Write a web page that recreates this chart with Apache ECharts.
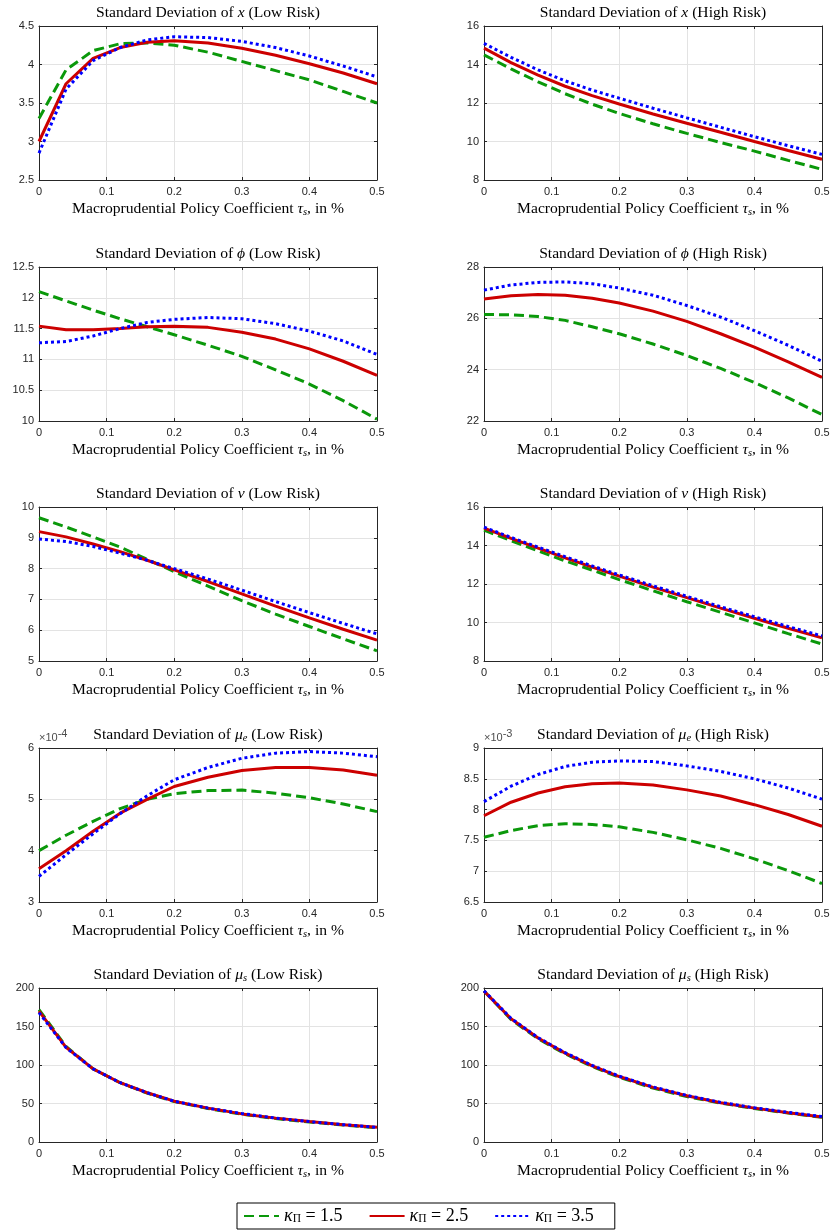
<!DOCTYPE html>
<html>
<head>
<meta charset="utf-8">
<title>Standard Deviations</title>
<script src="https://cdn.jsdelivr.net/npm/echarts@6/dist/echarts.min.js"></script>
<style>
html, body { margin: 0; padding: 0; background: #fff; }
#chart { width: 832px; height: 1230px; }
</style>
</head>
<body>
<div id="chart"></div>
<script>
// policy coefficient tau_s (x axis of every panel)
const tau = [0, 0.04, 0.08, 0.12, 0.16, 0.2, 0.25, 0.3, 0.35, 0.4, 0.45, 0.5]
// kappa_Pi values (one line per value)
const kappas = ['1.5', '2.5', '3.5']

// std of x
const xLow15 = [3.3, 3.93, 4.18, 4.27, 4.28, 4.25, 4.16, 4.04, 3.92, 3.8, 3.65, 3.5]
const xLow25 = [3.0, 3.75, 4.08, 4.22, 4.29, 4.31, 4.28, 4.21, 4.12, 4.01, 3.89, 3.75]
const xLow35 = [2.85, 3.68, 4.05, 4.22, 4.32, 4.36, 4.35, 4.3, 4.22, 4.11, 3.98, 3.84]
const xHigh15 = [14.5, 13.77, 13.1, 12.48, 11.94, 11.46, 10.92, 10.42, 9.95, 9.5, 9.02, 8.55]
const xHigh25 = [14.85, 14.1, 13.45, 12.87, 12.38, 11.95, 11.43, 10.95, 10.48, 10.0, 9.53, 9.08]
const xHigh35 = [15.1, 14.37, 13.72, 13.15, 12.67, 12.25, 11.73, 11.23, 10.74, 10.25, 9.78, 9.33]
// std of phi
const phiLow15 = [12.1, 11.95, 11.8, 11.66, 11.53, 11.4, 11.23, 11.05, 10.83, 10.6, 10.33, 10.03]
const phiLow25 = [11.54, 11.48, 11.48, 11.5, 11.53, 11.54, 11.52, 11.44, 11.33, 11.17, 10.97, 10.74]
const phiLow35 = [11.27, 11.29, 11.38, 11.5, 11.6, 11.65, 11.68, 11.66, 11.58, 11.46, 11.3, 11.08]
const phiHigh15 = [26.15, 26.14, 26.07, 25.92, 25.67, 25.4, 25.0, 24.55, 24.05, 23.5, 22.9, 22.25]
const phiHigh25 = [26.75, 26.88, 26.93, 26.9, 26.78, 26.6, 26.28, 25.88, 25.4, 24.88, 24.3, 23.7]
const phiHigh35 = [27.1, 27.3, 27.4, 27.42, 27.35, 27.18, 26.9, 26.5, 26.05, 25.52, 24.95, 24.33]
// std of nu
const nuLow15 = [9.65, 9.35, 9.03, 8.7, 8.3, 7.9, 7.43, 6.96, 6.52, 6.12, 5.72, 5.33]
const nuLow25 = [9.2, 9.03, 8.8, 8.55, 8.27, 7.96, 7.58, 7.18, 6.78, 6.4, 6.03, 5.68]
const nuLow35 = [8.96, 8.88, 8.72, 8.5, 8.27, 8.0, 7.66, 7.3, 6.93, 6.57, 6.22, 5.88]
const nuHigh15 = [14.8, 14.25, 13.72, 13.2, 12.72, 12.23, 11.65, 11.08, 10.53, 9.98, 9.42, 8.88]
const nuHigh25 = [14.9, 14.37, 13.86, 13.36, 12.88, 12.41, 11.84, 11.29, 10.75, 10.22, 9.7, 9.2]
const nuHigh35 = [14.95, 14.42, 13.92, 13.42, 12.94, 12.47, 11.91, 11.36, 10.82, 10.3, 9.79, 9.3]
// std of mu_e (low in 1e-4, high in 1e-3)
const mueLow15 = [4.0, 4.3, 4.57, 4.82, 5.0, 5.11, 5.17, 5.18, 5.12, 5.03, 4.91, 4.76]
const mueLow25 = [3.65, 4.0, 4.38, 4.73, 5.0, 5.25, 5.43, 5.56, 5.62, 5.62, 5.57, 5.47]
const mueLow35 = [3.5, 3.92, 4.33, 4.72, 5.07, 5.38, 5.62, 5.8, 5.9, 5.93, 5.9, 5.83]
const mueHigh15 = [7.55, 7.66, 7.74, 7.77, 7.76, 7.72, 7.63, 7.51, 7.37, 7.2, 7.01, 6.8]
const mueHigh25 = [7.9, 8.12, 8.27, 8.37, 8.42, 8.43, 8.4, 8.32, 8.22, 8.08, 7.92, 7.73]
const mueHigh35 = [8.13, 8.38, 8.57, 8.7, 8.77, 8.79, 8.78, 8.71, 8.62, 8.5, 8.35, 8.17]
// std of mu_s
const musLow15 = [172, 124, 95, 77, 63.5, 52.5, 43.5, 36, 30.5, 26, 22, 18.5]
const musLow25 = [170, 123, 95, 77, 64, 53, 44, 36.5, 31, 26.5, 22.5, 19]
const musLow35 = [168, 122.5, 95, 77, 64, 53, 44, 37, 31, 26.5, 22.5, 19]
const musHigh15 = [196, 159, 134, 114.5, 98, 84, 70, 59, 50.5, 43.5, 37.5, 32]
const musHigh25 = [196, 160, 135, 115.5, 99, 85, 71, 60, 51, 44, 38, 32.5]
const musHigh35 = [196.5, 160.5, 135.5, 116, 99.5, 85.5, 71.5, 60.5, 51.5, 44.5, 38.5, 33]

const panels = [
  { title: 'Standard Deviation of {i|x} (Low Risk)', min: 2.5, max: 4.5, step: 0.5, lines: [xLow15, xLow25, xLow35] },
  { title: 'Standard Deviation of {i|x} (High Risk)', min: 8, max: 16, step: 2, lines: [xHigh15, xHigh25, xHigh35] },
  { title: 'Standard Deviation of {i|ϕ} (Low Risk)', min: 10, max: 12.5, step: 0.5, lines: [phiLow15, phiLow25, phiLow35] },
  { title: 'Standard Deviation of {i|ϕ} (High Risk)', min: 22, max: 28, step: 2, lines: [phiHigh15, phiHigh25, phiHigh35] },
  { title: 'Standard Deviation of {i|ν} (Low Risk)', min: 5, max: 10, step: 1, lines: [nuLow15, nuLow25, nuLow35] },
  { title: 'Standard Deviation of {i|ν} (High Risk)', min: 8, max: 16, step: 2, lines: [nuHigh15, nuHigh25, nuHigh35] },
  { title: 'Standard Deviation of {i|μ}{sub|e} (Low Risk)', min: 3, max: 6, step: 1, exp: '-4', lines: [mueLow15, mueLow25, mueLow35] },
  { title: 'Standard Deviation of {i|μ}{sub|e} (High Risk)', min: 6.5, max: 9, step: 0.5, exp: '-3', lines: [mueHigh15, mueHigh25, mueHigh35] },
  { title: 'Standard Deviation of {i|μ}{sub|s} (Low Risk)', min: 0, max: 200, step: 50, lines: [musLow15, musLow25, musLow35] },
  { title: 'Standard Deviation of {i|μ}{sub|s} (High Risk)', min: 0, max: 200, step: 50, lines: [musHigh15, musHigh25, musHigh35] }
]

// 样式
const serif = 'Liberation Serif'
const sans = 'Liberation Sans'
const axisColor = '#262626'
const colors = ['#0a980a', '#cc0000', '#0000ff']
const dashes = [[10, 5], 'solid', [3, 3]]
const colLeft = [39, 484]
const rowTop = [26, 267, 507, 748, 988]
const plotW = 338
const plotH = 154
const fs = 15.6

const richMath = {
  i: { fontFamily: serif, fontSize: fs, fontStyle: 'italic', fontWeight: 'normal', color: '#000', lineHeight: 18 },
  sub: { fontFamily: serif, fontSize: 10.5, fontStyle: 'italic', fontWeight: 'normal', color: '#000', lineHeight: 10, verticalAlign: 'bottom' }
}
const serifText = { fontFamily: serif, fontSize: fs, fontWeight: 'normal', color: '#000', lineHeight: 18, rich: richMath }

const title = []
const grid = []
const xAxis = []
const yAxis = []
const series = []

panels.forEach((p, i) => {
  const col = i % 2
  const row = Math.floor(i / 2)
  const left = colLeft[col]
  const top = rowTop[row]
  grid.push({ left: left, top: top, width: plotW, height: plotH, containLabel: false, outerBoundsMode: 'none' })
  title.push({
    text: p.title,
    left: left + plotW / 2,
    top: top - 22,
    textAlign: 'center',
    padding: 0,
    textStyle: serifText
  })
  const tick = { show: true, inside: true, length: 3, lineStyle: { color: axisColor, width: 1 } }
  const line = { show: true, onZero: false, lineStyle: { color: axisColor, width: 1 } }
  // 底部x轴 + 顶部x轴（只画边框和刻度）
  xAxis.push({
    gridIndex: i, type: 'value', position: 'bottom', min: 0, max: 0.5, interval: 0.1,
    axisLine: line, axisTick: tick,
    axisLabel: { show: true, margin: 6, color: axisColor, fontFamily: sans, fontSize: 11 },
    splitLine: { show: true, lineStyle: { color: '#e3e3e3', width: 1 } },
    name: 'Macroprudential Policy Coefficient {i|τ}{sub|s}, in %',
    nameLocation: 'middle', nameGap: 20,
    nameTextStyle: serifText
  })
  xAxis.push({
    gridIndex: i, type: 'value', position: 'top', min: 0, max: 0.5, interval: 0.1,
    axisLine: line, axisTick: tick, axisLabel: { show: false }, splitLine: { show: false }
  })
  const yLeft = {
    gridIndex: i, type: 'value', position: 'left', min: p.min, max: p.max, interval: p.step,
    axisLine: line, axisTick: tick,
    axisLabel: { show: true, margin: 5, color: axisColor, fontFamily: sans, fontSize: 11 },
    splitLine: { show: true, lineStyle: { color: '#e3e3e3', width: 1 } }
  }
  if (p.exp) {
    // 指数标记 ×10^-4 / ×10^-3
    yLeft.name = '{a|×10}{e|' + p.exp + '}'
    yLeft.nameLocation = 'end'
    yLeft.nameGap = 0
    yLeft.nameTextStyle = {
      align: 'left', verticalAlign: 'bottom',
      rich: {
        a: { fontFamily: sans, fontSize: 11, color: '#4d4d4d', lineHeight: 20, verticalAlign: 'middle' },
        e: { fontFamily: sans, fontSize: 11, color: '#4d4d4d', lineHeight: 10, verticalAlign: 'top' }
      }
    }
  }
  yAxis.push(yLeft)
  yAxis.push({
    gridIndex: i, type: 'value', position: 'right', min: p.min, max: p.max, interval: p.step,
    axisLine: line, axisTick: tick, axisLabel: { show: false }, splitLine: { show: false }
  })
  p.lines.forEach((vals, k) => {
    series.push({
      type: 'line',
      name: kappas[k],
      xAxisIndex: 2 * i,
      yAxisIndex: 2 * i,
      symbol: 'none',
      showSymbol: false,
      z: 2 + k,
      lineStyle: { color: colors[k], width: 3, type: dashes[k] },
      itemStyle: { color: colors[k] },
      data: tau.map((t, j) => [t, vals[j]])
    })
  })
})

const chart = echarts.init(document.getElementById('chart'), null, { renderer: 'canvas' })
chart.setOption({
  animation: false,
  backgroundColor: '#fff',
  title: title,
  grid: grid,
  xAxis: xAxis,
  yAxis: yAxis,
  legend: {
    data: kappas,
    left: 237,
    top: 1203,
    orient: 'horizontal',
    itemWidth: 35,
    itemHeight: 12,
    itemGap: 26,
    padding: [4, 21, 4, 6],
    borderColor: '#000',
    borderWidth: 1,
    backgroundColor: '#fff',
    selectedMode: false,
    itemStyle: { opacity: 0, borderWidth: 0 },
    formatter: (name) => '{i|κ}{p|Π}{t| = ' + name + '}',
    textStyle: {
      fontFamily: serif, fontSize: 18, color: '#000',
      rich: {
        i: { fontFamily: serif, fontSize: 18, fontStyle: 'italic', color: '#000', lineHeight: 18 },
        p: { fontFamily: serif, fontSize: 11.5, color: '#000', lineHeight: 10, verticalAlign: 'bottom' },
        t: { fontFamily: serif, fontSize: 18, color: '#000', lineHeight: 18 }
      }
    }
  },
  series: series
})
</script>
</body>
</html>
